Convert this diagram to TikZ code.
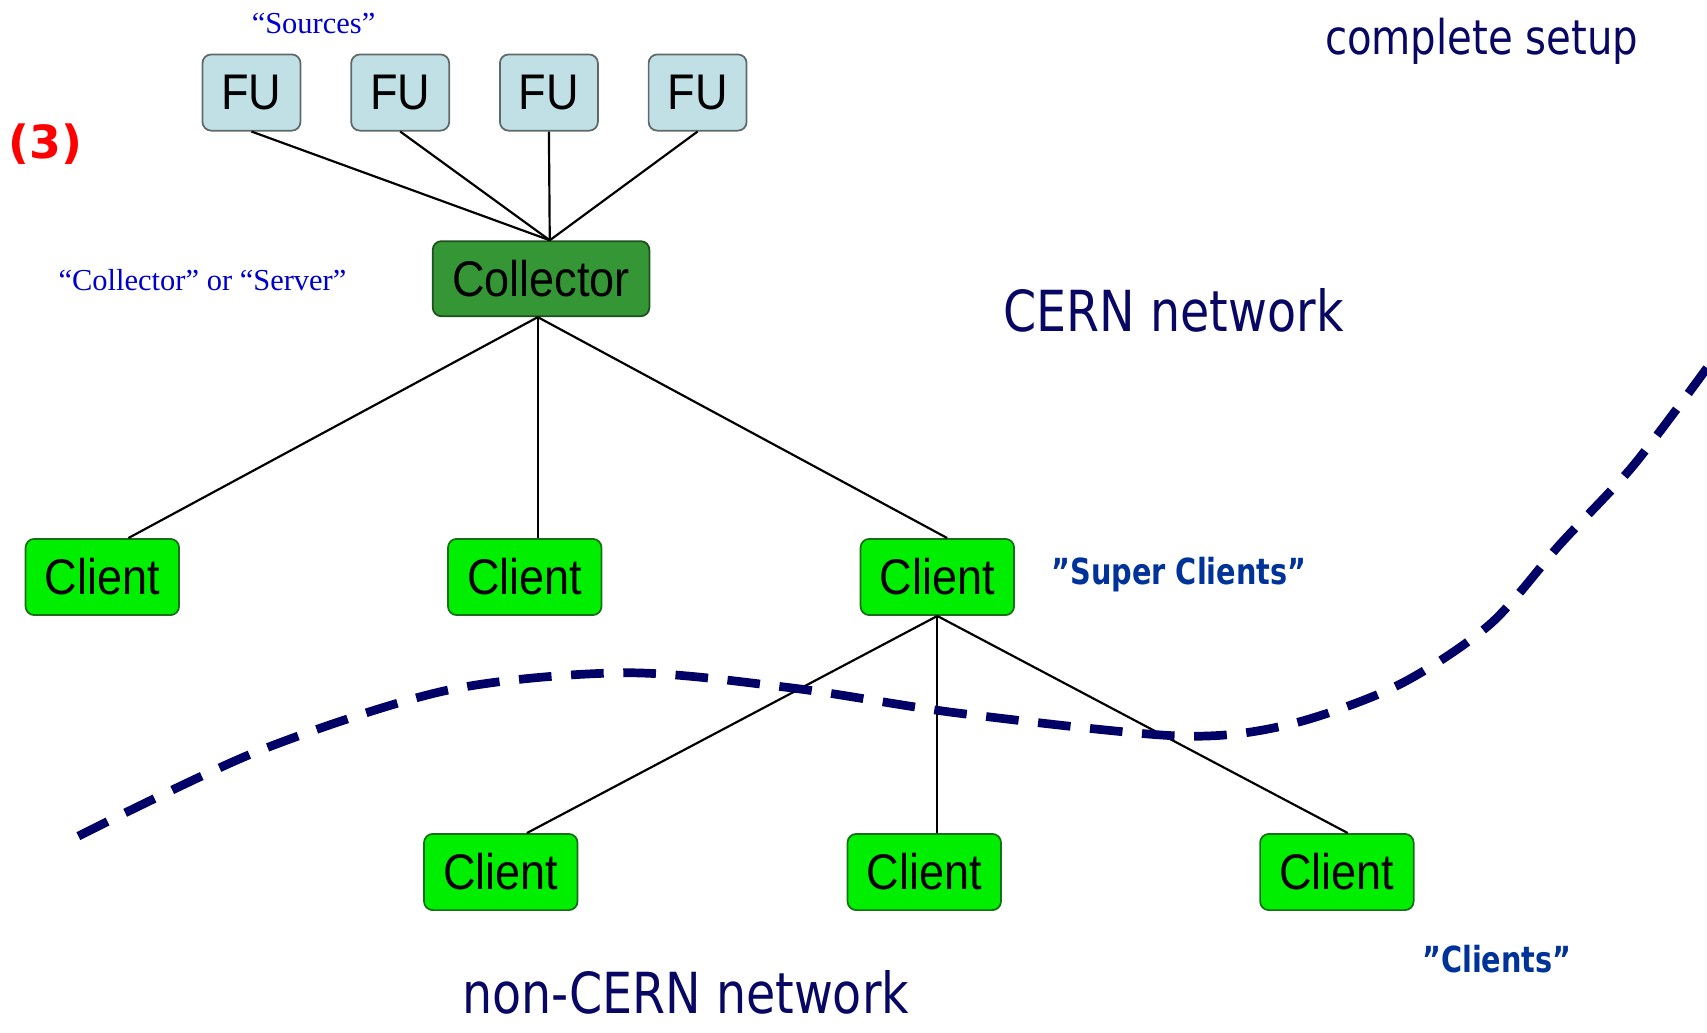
\documentclass[tikz,border=0pt]{standalone}
\usepackage{fontspec}
\usetikzlibrary{positioning}
\newfontfamily\arialfont[FakeStretch=0.9]{Liberation Sans}
\newfontfamily\verdfont[FakeStretch=0.84]{DejaVu Sans}
\newfontfamily\narrowverd[FakeStretch=0.8]{DejaVu Sans}
\newfontfamily\dejafont{DejaVu Sans}
\newfontfamily\timesfont{Liberation Serif}
\definecolor{fufill}{RGB}{192,224,230}
\definecolor{fuline}{RGB}{95,105,105}
\definecolor{colfill}{RGB}{52,150,52}
\definecolor{colline}{RGB}{30,80,30}
\definecolor{clfill}{RGB}{0,238,0}
\definecolor{clline}{RGB}{25,110,25}
\definecolor{navytxt}{RGB}{8,8,100}
\definecolor{navyline}{RGB}{0,0,102}
\definecolor{supblue}{RGB}{0,51,153}
\definecolor{srcblue}{RGB}{0,0,204}
\begin{document}
\begin{tikzpicture}[x=0.5pt,y=-0.5pt]
			\tikzstyle{nodebox}=[draw,rounded corners=4pt,line width=0.8pt,inner sep=0pt,font=\arialfont\fontsize{23}{23}\selectfont]
			\tikzstyle{fu}=[nodebox,fill=fufill,draw=fuline,minimum width=45pt,minimum height=35pt]
			\tikzstyle{collector}=[nodebox,fill=colfill,draw=colline,minimum width=99.5pt,minimum height=34.5pt]
			\tikzstyle{client}=[nodebox,fill=clfill,draw=clline,minimum width=70.5pt,minimum height=35pt]
			\tikzstyle{wire}=[line width=1pt,black]
			\tikzstyle{srctxt}=[text=srcblue,font=\timesfont\fontsize{14}{14}\selectfont]
			\tikzstyle{nettxt}=[text=navytxt,font=\verdfont\fontsize{26}{26}\selectfont]
			\tikzstyle{suptxt}=[text=supblue,font=\narrowverd\bfseries\fontsize{16.5}{16.5}\selectfont]
			
			\useasboundingbox (0,0) rectangle (1568,948);
			
			% sources
			\node[fu] (f1) at (231,85) {FU};
			\node[fu,right=22.5pt of f1] (f2) {FU};
			\node[fu,right=22.5pt of f2] (f3) {FU};
			\node[fu,right=22.5pt of f3] (f4) {FU};
			
			% collector and clients
			\node[collector] (col) at (497,256) {Collector};
			\node[client] (c1) at (94,530) {Client};
			\node[client] (c2) at (482,530) {Client};
			\node[client] (c3) at (861,530) {Client};
			\node[client] (d1) at (460,801) {Client};
			\node[client] (d2) at (849,801) {Client};
			\node[client] (d3) at (1228,801) {Client};
			
			\coordinate (colin) at ([xshift=4pt]col.north);
			\coordinate (colout) at ([xshift=-1.5pt]col.south);
			\draw[wire] (f1.south) -- (colin);
			\draw[wire] (f2.south) -- (colin);
			\draw[wire] (f3.south) -- (colin);
			\draw[wire] (f4.south) -- (colin);
			\draw[wire] (colout) -- ([xshift=12pt]c1.north);
			\draw[wire] (colout) -- ([xshift=6pt]c2.north);
			\draw[wire] (colout) -- ([xshift=4.5pt]c3.north);
			\draw[wire] (c3.south) -- ([xshift=12pt]d1.north);
			\draw[wire] (c3.south) -- ([xshift=6pt]d2.north);
			\draw[wire] (c3.south) -- ([xshift=5pt]d3.north);
			
			% network border
			\draw[navyline,line width=4pt,dash pattern=on 15pt off 9pt]
			plot[smooth] coordinates {(72,768) (237,690) (411,634) (575,618) (728,632) (880,655) (1082,676) (1182,666) (1283,630) (1368,574) (1433,500) (1500,428) (1568,338)};
			
			% texts
			\node[srctxt] (srclab) at (288,22) {“Sources”};
			\node[srctxt] (collab) at (186,257) {“Collector” or “Server”};
			\node[text=red,font=\dejafont\bfseries\fontsize{21}{21}\selectfont] (num) at (42,132) {(3)};
			\node[nettxt] (cern) at (1078,285) {CERN network};
			\node[nettxt] (noncern) at (630,912) {non-CERN network};
			\node[text=navytxt,font=\verdfont\fontsize{22}{22}\selectfont] (setup) at (1361,38) {complete setup};
			\node[suptxt] (suplab) at (1083,528) {”Super Clients”};
			\node[suptxt] (cllab) at (1375,881) {”Clients”};
			
\end{tikzpicture}
\end{document}
